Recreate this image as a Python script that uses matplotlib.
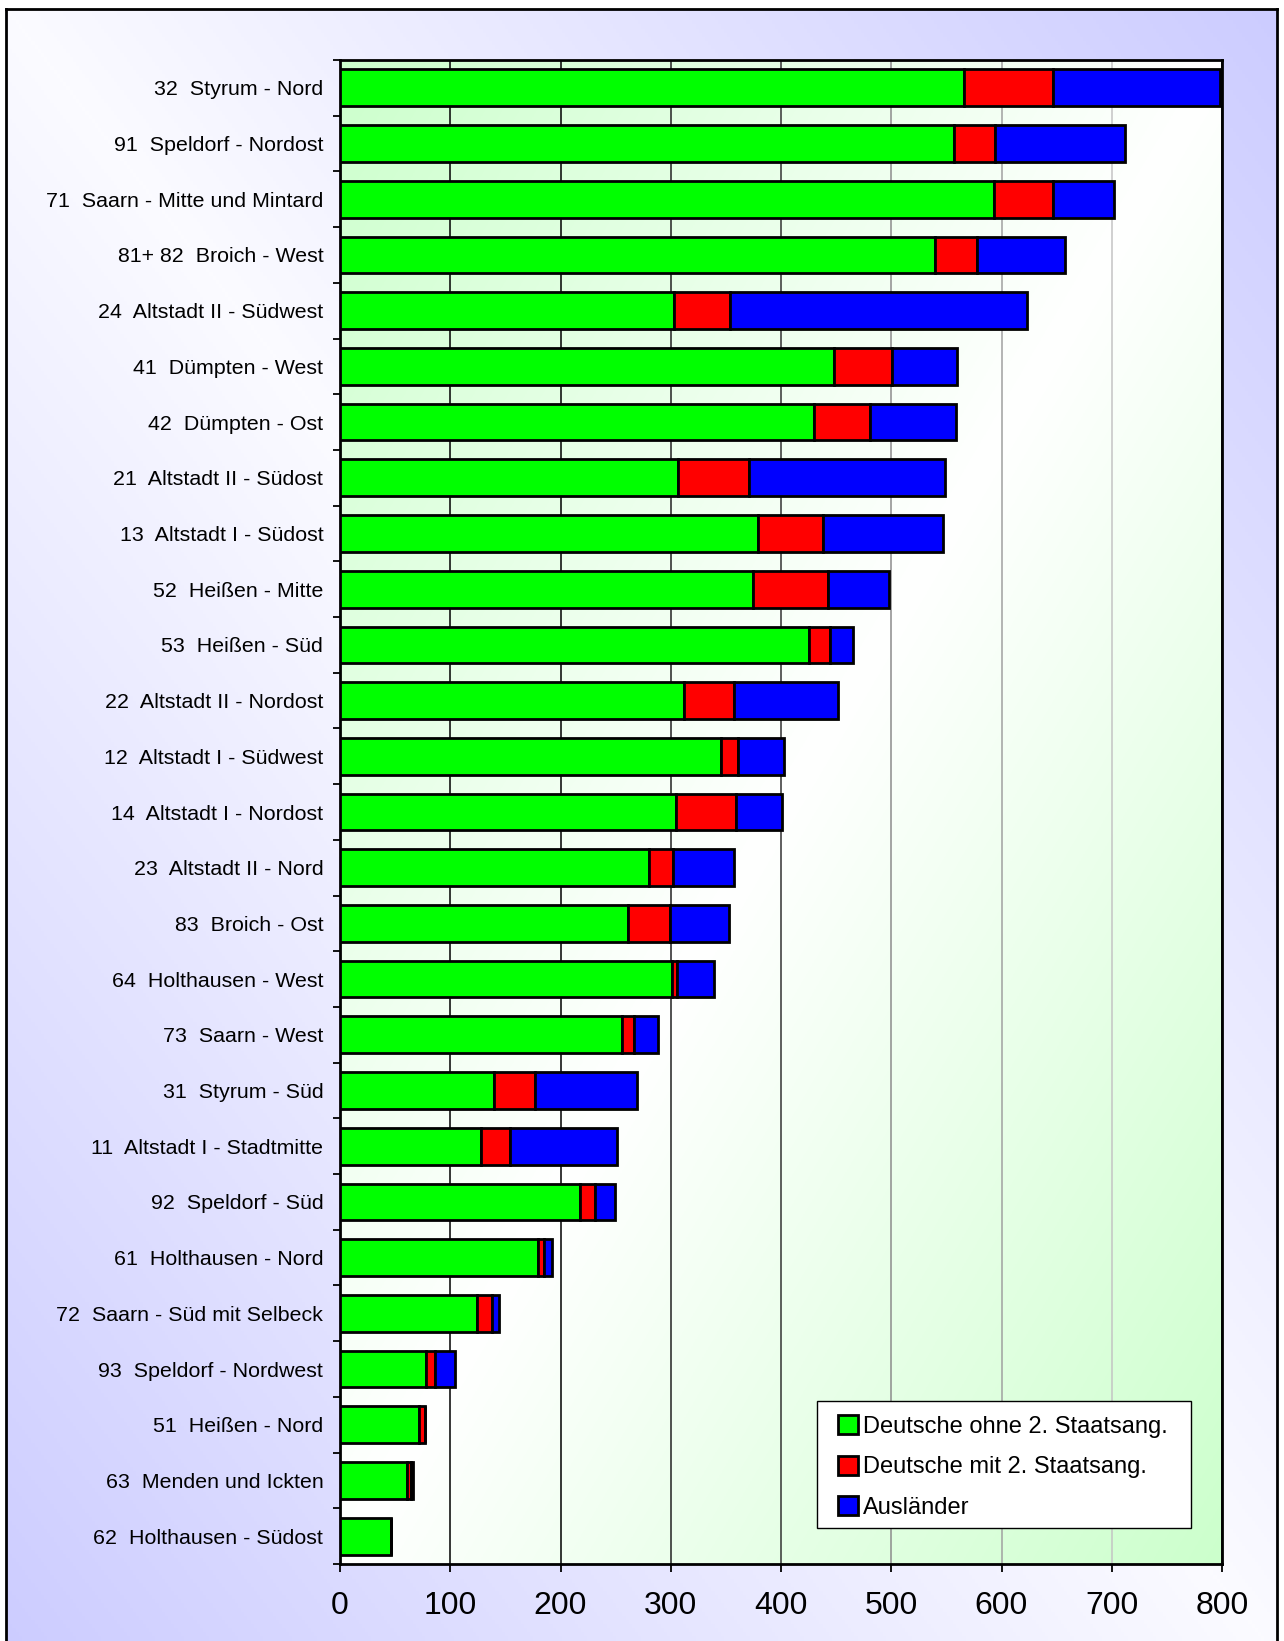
import numpy as np
import matplotlib
matplotlib.use('Agg')
import matplotlib.pyplot as plt
from matplotlib.colors import to_rgb
from matplotlib.patches import Rectangle

plt.rcParams['font.family'] = ['Liberation Sans', 'DejaVu Sans']

districts = ['32  Styrum - Nord', '91  Speldorf - Nordost', '71  Saarn - Mitte und Mintard',
             '81+ 82  Broich - West', '24  Altstadt II - Südwest', '41  Dümpten - West',
             '42  Dümpten - Ost', '21  Altstadt II - Südost', '13  Altstadt I - Südost',
             '52  Heißen - Mitte', '53  Heißen - Süd', '22  Altstadt II - Nordost',
             '12  Altstadt I - Südwest', '14  Altstadt I - Nordost', '23  Altstadt II - Nord',
             '83  Broich - Ost', '64  Holthausen - West', '73  Saarn - West',
             '31  Styrum - Süd', '11  Altstadt I - Stadtmitte', '92  Speldorf - Süd',
             '61  Holthausen - Nord', '72  Saarn - Süd mit Selbeck', '93  Speldorf - Nordwest',
             '51  Heißen - Nord', '63  Menden und Ickten', '62  Holthausen - Südost']
deutsche_ohne = [566, 557, 593, 540, 303, 448, 430, 307, 379, 375, 425, 312, 346, 305,
                 280, 261, 301, 256, 140, 128, 218, 180, 124, 78, 72, 61, 46]
deutsche_mit = [81, 37, 54, 38, 51, 53, 51, 64, 59, 68, 19, 45, 15, 54,
                22, 38, 5, 11, 37, 26, 13, 5, 14, 8, 5, 3, 0]
auslaender = [151, 118, 55, 80, 269, 59, 78, 178, 109, 55, 21, 95, 42, 42,
              55, 54, 33, 21, 92, 97, 18, 7, 6, 18, 0, 2, 0]
series_labels = ['Deutsche ohne 2. Staatsang.', 'Deutsche mit 2. Staatsang.', 'Ausländer']
series_colors = ['#00ff00', '#ff0000', '#0000ff']
x_ticks = [0, 100, 200, 300, 400, 500, 600, 700, 800]
grid_colors = ['#000000', '#000000', '#000000', '#222222', '#333333',
               '#8c8c8c', '#a0a0a0', '#c4c4c4', '#000000']


def gradient(c0, c1, anti=False, n=400):
    u = np.linspace(0, 1, n)
    U, V = np.meshgrid(u, u)
    t = np.abs(U + V - 1) if anti else np.abs(U - V)
    return (1 - t)[..., None] * np.array(to_rgb(c0)) + t[..., None] * np.array(to_rgb(c1))


W, H = 1284, 1641
fig = plt.figure(figsize=(W / 100, H / 100), dpi=100)
fig.patch.set_facecolor('white')

# outer frame with lavender gradient
outer = fig.add_axes([6 / W, -0.01, 1271 / W, 1.01 - 9 / H], zorder=0)
outer.imshow(gradient('#fbfbff', '#ccccff'), aspect='auto', extent=(0, 1, 0, 1))
outer.set_xticks([])
outer.set_yticks([])
for side in ['left', 'right', 'top']:
    outer.spines[side].set_linewidth(2)
outer.spines['bottom'].set_visible(False)

rect = [340 / W, (H - 1564) / H, 882 / W, 1504 / H]

# plot area with green gradient
plot_bg = fig.add_axes(rect, zorder=1)
plot_bg.imshow(gradient('#ffffff', '#ccffcc', anti=True), aspect='auto', extent=(0, 1, 0, 1))
plot_bg.axis('off')

ax = fig.add_axes(rect, zorder=2)
ax.set_facecolor('none')

y = np.arange(len(districts))
left = np.zeros(len(districts))
for vals, lab, col in zip([deutsche_ohne, deutsche_mit, auslaender], series_labels, series_colors):
    ax.barh(y, vals, left=left, height=0.66, color=col, edgecolor='black',
            linewidth=2, label=lab, zorder=3)
    left = left + np.array(vals)

ax.set_xlim(0, 800)
ax.set_ylim(len(districts) - 0.5, -0.5)
ax.set_xticks(x_ticks)
ax.tick_params(axis='x', labelsize=23, length=6, width=1.3, pad=13.5)
ax.set_yticks(y)
ax.set_yticklabels(districts)
ax.tick_params(axis='y', which='major', length=0, labelsize=15.4, pad=12)
ax.set_yticks(np.arange(-0.5, len(districts)), minor=True)
ax.tick_params(axis='y', which='minor', length=5, width=1.3)

ax.grid(axis='x', linewidth=1.1)
for line, c in zip(ax.get_xgridlines(), grid_colors):
    line.set_color(c)
ax.set_axisbelow(True)
for s in ax.spines.values():
    s.set_linewidth(2)

# legend box drawn separately so its padding matches the original
ax.add_patch(Rectangle((0.5408, 0.0239), 0.4241, 0.0845, transform=ax.transAxes,
                       facecolor='white', edgecolor='black', linewidth=1, zorder=4))
leg = ax.legend(loc='center left', bbox_to_anchor=(0.5645, 0.0645), borderaxespad=0,
                fontsize=17, frameon=False, borderpad=0,
                handlelength=0.85, handleheight=0.85, handletextpad=0.2,
                labelspacing=0.77)
leg.set_zorder(5)

fig.savefig('out.png', dpi=100)
